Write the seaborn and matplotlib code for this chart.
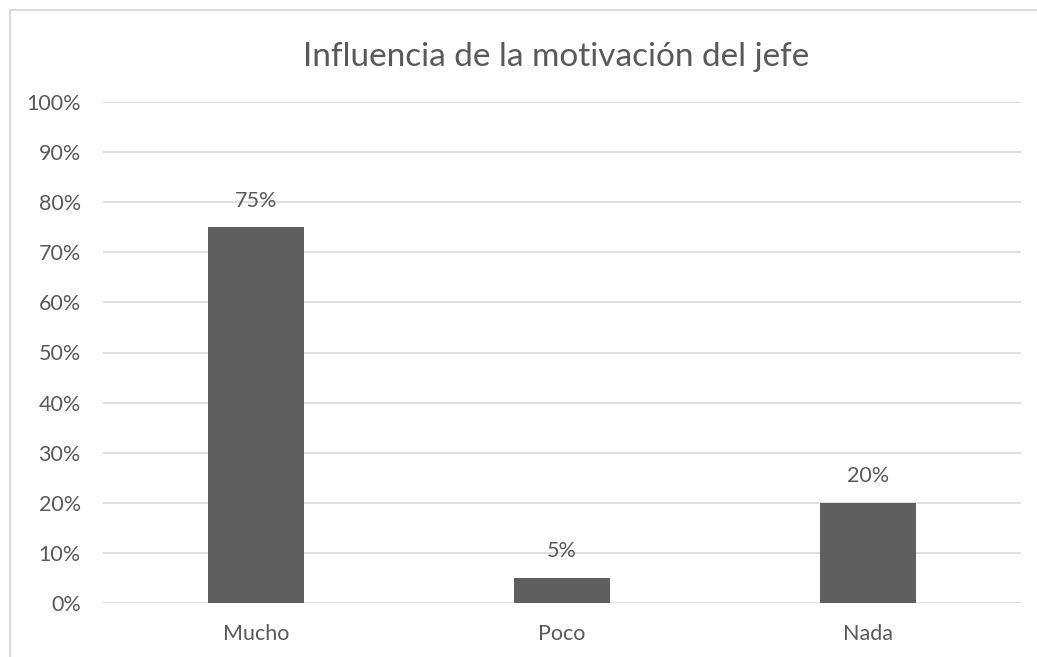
import matplotlib
matplotlib.use('Agg')
import matplotlib.pyplot as plt
from matplotlib.lines import Line2D
from matplotlib.ticker import PercentFormatter
import pandas as pd
import seaborn as sns

# data
categories = ["Mucho", "Poco", "Nada"]
values = [75, 5, 20]
title = "Influencia de la motivación del jefe"

W, H = 1037, 657
TEXT = "#595959"
GRID = "#d9d9d9"
BAR = "#5f5f5f"

sns.set_theme(style="white")
plt.rcParams['font.family'] = ['Lato', 'DejaVu Sans']

df = pd.DataFrame({"cat": categories, "val": values})

fig = plt.figure(figsize=(W / 100, H / 100), dpi=100)
ax = fig.add_axes([103 / W, 1 - 603 / H, (1021 - 103) / W, (603 - 102) / H])

sns.barplot(data=df, x="cat", y="val", color=BAR, saturation=1,
            width=0.314, linewidth=0, ax=ax)

ax.set_ylim(0, 100)
ax.set_yticks(range(0, 101, 10))
ax.yaxis.set_major_formatter(PercentFormatter(decimals=0))
ax.grid(axis="y", color=GRID, linewidth=1.2)
ax.set_axisbelow(True)
for s in ax.spines.values():
    s.set_visible(False)
ax.set_xlabel("")
ax.set_ylabel("")
ax.tick_params(axis="both", length=0, colors=TEXT, labelsize=15.5)
ax.tick_params(axis="x", pad=15)
ax.tick_params(axis="y", pad=16)

ax.bar_label(ax.containers[0], labels=[f"{v}%" for v in values],
             padding=12, color=TEXT, fontsize=15.5)

fig.text(556 / W, 1 - 57 / H, title, ha="center", va="center",
         color=TEXT, fontsize=24)

# chart area border (top and left visible)
fig.add_artist(Line2D([10 / W, 10 / W, 1], [0, 1 - 10 / H, 1 - 10 / H],
                      transform=fig.transFigure, color=GRID, linewidth=1.5))

fig.savefig("out.png", dpi=100, facecolor="white")
